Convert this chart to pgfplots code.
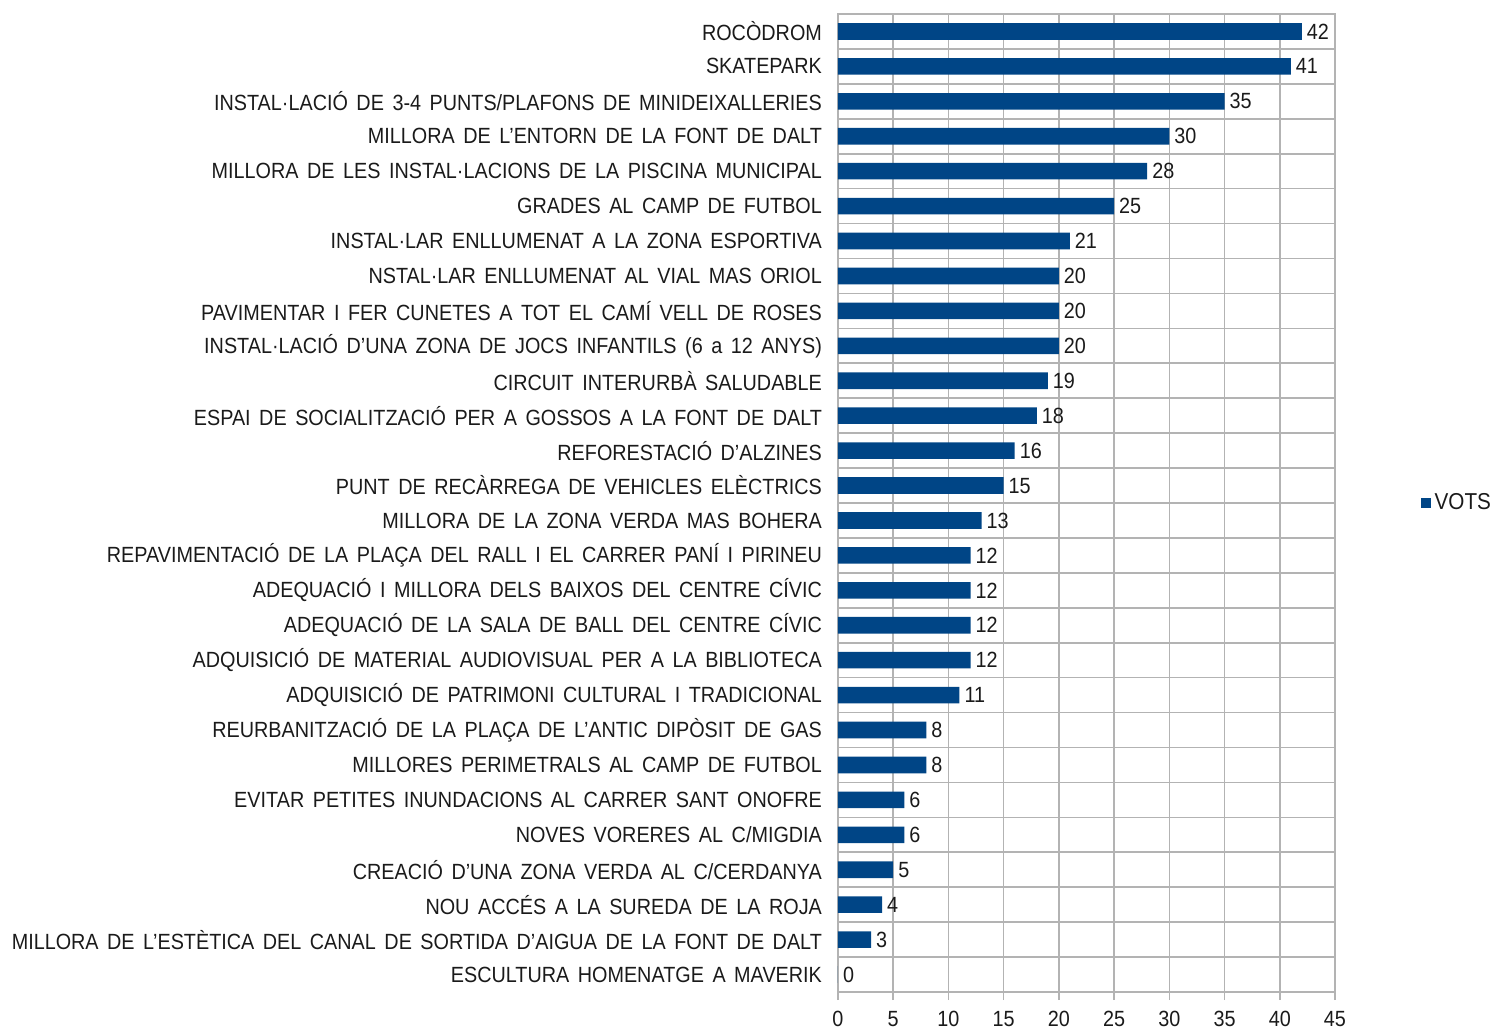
\documentclass[border=0pt]{standalone}
\usepackage{fontspec}
\setmainfont{Liberation Sans}[FakeStretch=0.9, WordSpace=1.55]
\usepackage{pgfplots}
\pgfplotsset{compat=1.18}
\definecolor{barblue}{HTML}{004586}
\definecolor{gridgray}{HTML}{B3B3B3}
\definecolor{txt}{HTML}{1A1A1A}
\begin{document}
\begin{tikzpicture}
\begin{axis}[
  name=ax,
  scale only axis,
  width=248.5pt, height=489pt,
  xbar, bar width=8.3pt,
  y dir=reverse,
  xmin=0, xmax=45,
  ymin=-0.5, ymax=27.5,
  xtick={0,5,...,45},
  ytick={0,...,27},
  minor ytick={-0.5,0.5,...,27.5},
  xmajorgrids, yminorgrids,
  grid style={gridgray, line width=0.8pt},
  minor grid style={gridgray, line width=0.8pt},
  axis line style={gridgray, line width=0.8pt},
  major tick style={gridgray, line width=0.8pt},
  minor tick style={gridgray, line width=0.8pt},
  xtick align=outside, major tick length=4pt,
  ytick style={draw=none},
  minor tick length=3pt,
  tick pos=left,
  /pgf/number format/assume math mode=true,
  tick label style={font=\fontsize{11}{12}\selectfont, text=txt},
  xticklabel style={yshift=-2pt},
  yticklabel style={xshift=-0.5pt},
  yticklabels={
    ROCÒDROM,
    SKATEPARK,
    INSTAL·LACIÓ DE 3-4 PUNTS/PLAFONS DE MINIDEIXALLERIES,
    MILLORA DE L’ENTORN DE LA FONT DE DALT,
    MILLORA DE LES INSTAL·LACIONS DE LA PISCINA MUNICIPAL,
    GRADES AL CAMP DE FUTBOL,
    INSTAL·LAR ENLLUMENAT A LA ZONA ESPORTIVA,
    NSTAL·LAR ENLLUMENAT AL VIAL MAS ORIOL,
    PAVIMENTAR I FER CUNETES A TOT EL CAMÍ VELL DE ROSES,
    INSTAL·LACIÓ D’UNA ZONA DE JOCS INFANTILS (6 a 12 ANYS),
    CIRCUIT INTERURBÀ SALUDABLE,
    ESPAI DE SOCIALITZACIÓ PER A GOSSOS A LA FONT DE DALT,
    REFORESTACIÓ D’ALZINES,
    PUNT DE RECÀRREGA DE VEHICLES ELÈCTRICS,
    MILLORA DE LA ZONA VERDA MAS BOHERA,
    REPAVIMENTACIÓ DE LA PLAÇA DEL RALL I EL CARRER PANÍ I PIRINEU,
    ADEQUACIÓ I MILLORA DELS BAIXOS DEL CENTRE CÍVIC,
    ADEQUACIÓ DE LA SALA DE BALL DEL CENTRE CÍVIC,
    ADQUISICIÓ DE MATERIAL AUDIOVISUAL PER A LA BIBLIOTECA,
    ADQUISICIÓ DE PATRIMONI CULTURAL I TRADICIONAL,
    REURBANITZACIÓ DE LA PLAÇA DE L’ANTIC DIPÒSIT DE GAS,
    MILLORES PERIMETRALS AL CAMP DE FUTBOL,
    EVITAR PETITES INUNDACIONS AL CARRER SANT ONOFRE,
    NOVES VORERES AL C/MIGDIA,
    CREACIÓ D’UNA ZONA VERDA AL C/CERDANYA,
    NOU ACCÉS A LA SUREDA DE LA ROJA,
    MILLORA DE L’ESTÈTICA DEL CANAL DE SORTIDA D’AIGUA DE LA FONT DE DALT,
    ESCULTURA HOMENATGE A MAVERIK},
  nodes near coords,
  every node near coord/.append style={font=\fontsize{11}{12}\selectfont, text=txt, xshift=-1pt},
  legend style={at={([xshift=40pt]rel axis cs:1,0.5)}, anchor=west, draw=none, fill=none,
    font=\fontsize{11.5}{12}\selectfont, text=txt},
  legend image code/.code={\fill[barblue] (-2pt,-2.3pt) rectangle (2.6pt,2.3pt);},
]
\addplot[fill=barblue, draw=none] coordinates {
(42,0) (41,1) (35,2) (30,3) (28,4) (25,5) (21,6) (20,7) (20,8) (20,9)
(19,10) (18,11) (16,12) (15,13) (13,14) (12,15) (12,16) (12,17) (12,18) (11,19)
(8,20) (8,21) (6,22) (6,23) (5,24) (4,25) (3,26) (0,27)};
\addlegendentry{VOTS}
\end{axis}
\pgfresetboundingbox
\path[use as bounding box] ([xshift=-419pt,yshift=-20pt]ax.south west) rectangle ([xshift=79pt,yshift=7pt]ax.north east);
\end{tikzpicture}
\end{document}
